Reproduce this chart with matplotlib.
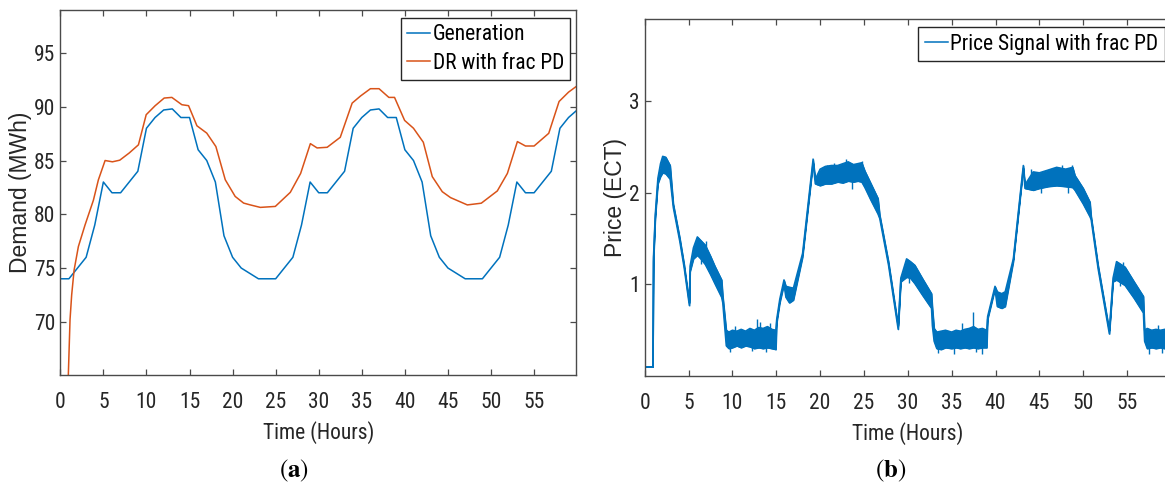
import matplotlib
matplotlib.use("Agg")
import matplotlib.pyplot as plt
from matplotlib import font_manager
from matplotlib.font_manager import FontProperties

# ---------------- data ----------------
gen_hours = list(range(0, 61))
generation = [74, 74, 75, 76, 79, 83, 82, 82, 83, 84,
              88, 89, 89.7, 89.8, 89, 89, 86, 85, 83, 78,
              76, 75, 74.5, 74, 74, 74, 75, 76, 79, 83,
              82, 82, 83, 84, 88, 89, 89.7, 89.8, 89, 89,
              86, 85, 83, 78, 76, 75, 74.5, 74, 74, 74,
              75, 76, 79, 83, 82, 82, 83, 84, 88, 89, 89.7]

dr_hours = [0, 0.93, 1.13, 1.32, 1.6, 2.1, 2.87, 3.84, 4.42, 5.2, 6.05, 6.9, 8.0,
            9.07, 9.97, 11.0, 12.06, 12.95, 14.11, 14.89, 15.86, 17.0, 18.06,
            19.15, 20.3, 21.28, 22.06, 23.22, 24.96, 26.7, 27.9, 29.03, 29.81,
            30.98, 32.5, 33.88, 34.85, 36.0, 37.0, 38.14, 38.8, 39.97, 41.0,
            42.14, 43.18, 44.34, 45.3, 47.25, 48.87, 50.73, 51.9, 53.06, 54.0,
            55.0, 56.7, 57.9, 59.0, 60.0]
dr_frac_pd = [40, 65.0, 70.2, 72.5, 74.8, 77.0, 79.0, 81.3, 83.2, 85.0, 84.88, 85.03, 85.7,
              86.46, 89.26, 90.09, 90.81, 90.87, 90.19, 90.1, 88.23, 87.55, 86.3,
              83.21, 81.66, 81.04, 80.87, 80.64, 80.73, 82.04, 83.8, 86.57, 86.17,
              86.23, 87.16, 90.34, 91.0, 91.68, 91.68, 90.87, 90.87, 88.73, 88.0,
              86.7, 83.5, 82.1, 81.55, 80.87, 81.03, 82.17, 83.8, 86.76, 86.35,
              86.35, 87.53, 90.49, 91.36, 91.95]

# price signal: lower / upper envelope of the fast oscillation
price_hours = [0, 0.92, 1.0, 1.2, 1.5, 1.8, 2.05, 2.4, 2.9, 3.26, 4.0, 4.5, 5.09,
               5.17, 5.55, 6.0, 6.4, 6.9, 7.5, 8.0, 8.77, 8.9, 9.3, 9.6, 10.0,
               10.5, 11.0, 11.5, 12.0, 12.5, 13.0, 13.5, 14.0, 14.5, 14.95,
               15.05, 15.4, 15.88, 16.1, 16.5, 16.95, 18.0, 19.2, 19.45, 20.0,
               20.6, 21.3, 22.0, 22.6, 23.2, 23.8, 24.3, 24.75, 25.1, 25.8,
               26.6, 26.8, 27.8, 28.9, 29.2, 29.86, 30.3, 30.8, 31.7, 32.7,
               32.8, 33.0, 33.3, 33.8, 34.3, 35.0, 35.5, 36.0, 36.5, 37.0,
               37.5, 38.0, 38.5, 39.0, 39.1, 39.94, 40.2, 40.7, 41.1, 42.03,
               43.17, 43.36, 44.3, 45.0, 46.0, 46.97, 48.0, 48.8, 49.06, 50.0,
               50.77, 50.9, 51.7, 52.98, 53.4, 53.8, 54.77, 55.8, 56.86, 57.0,
               57.3, 57.8, 58.3, 58.8, 59.3, 60.0]
price_low = [0.1, 0.1, 1.25, 1.72, 2.1, 2.18, 2.22, 2.21, 2.15, 1.84, 1.47, 1.18, 0.77,
             1.14, 1.28, 1.32, 1.28, 1.22, 1.11, 1.01, 0.86, 0.8, 0.33, 0.30, 0.31,
             0.33, 0.31, 0.33, 0.32, 0.30, 0.31, 0.30, 0.31, 0.30, 0.29,
             0.58, 0.80, 1.00, 0.86, 0.80, 0.83, 1.30, 2.33, 2.10, 2.08,
             2.10, 2.10, 2.12, 2.11, 2.13, 2.12, 2.13, 2.12, 2.06, 1.92,
             1.77, 1.72, 1.21, 0.51, 1.03, 1.08, 1.07, 1.01, 0.88, 0.74,
             0.55, 0.38, 0.30, 0.29, 0.31, 0.30, 0.31, 0.30, 0.31, 0.30,
             0.31, 0.30, 0.31, 0.31, 0.62, 0.95, 0.76, 0.74, 0.76, 1.25,
             2.27, 2.05, 2.03, 2.05, 2.07, 2.08, 2.07, 2.06, 2.03, 1.88,
             1.74, 1.71, 1.17, 0.46, 1.03, 1.05, 0.99, 0.85, 0.69, 0.38,
             0.30, 0.31, 0.30, 0.31, 0.30, 0.31]
price_high = [0.1, 0.1, 1.3, 1.76, 2.16, 2.32, 2.40, 2.39, 2.30, 1.88, 1.51, 1.22, 0.80,
              1.20, 1.40, 1.52, 1.48, 1.43, 1.31, 1.20, 1.05, 0.88, 0.50, 0.48, 0.50,
              0.49, 0.51, 0.49, 0.52, 0.50, 0.53, 0.52, 0.54, 0.51, 0.50,
              0.62, 0.84, 1.05, 0.98, 0.97, 0.96, 1.34, 2.37, 2.15, 2.26,
              2.29, 2.30, 2.30, 2.32, 2.34, 2.31, 2.32, 2.33, 2.24, 2.10,
              1.94, 1.76, 1.25, 0.55, 1.07, 1.28, 1.25, 1.21, 1.06, 0.90,
              0.75, 0.52, 0.48, 0.49, 0.50, 0.48, 0.50, 0.49, 0.51, 0.52,
              0.54, 0.51, 0.52, 0.50, 0.65, 0.98, 0.92, 0.90, 0.92, 1.28,
              2.30, 2.09, 2.23, 2.22, 2.25, 2.28, 2.26, 2.28, 2.19, 2.05,
              1.90, 1.75, 1.21, 0.50, 1.07, 1.25, 1.19, 1.03, 0.87, 0.50,
              0.52, 0.50, 0.51, 0.50, 0.51, 0.50]

# isolated spikes of the price signal
spike_hours = [6.4, 6.95, 9.7, 10.3, 12.2, 12.8, 13.2, 13.8, 14.3, 20.8, 21.6, 22.9,
               23.6, 24.8, 30.1, 33.5, 35.3, 36.2, 37.4, 37.8, 38.5, 44.0, 45.2,
               47.6, 48.3, 48.75, 54.2, 54.5, 57.5, 58.5, 59.0]
spike_low = [1.22, 1.30, 0.26, 0.40, 0.27, 0.45, 0.45, 0.26, 0.45, 2.20, 2.20, 2.25,
             2.04, 2.20, 1.02, 0.25, 0.24, 0.45, 0.45, 0.26, 0.24, 2.15, 2.00,
             2.20, 2.00, 2.15, 0.98, 1.10, 0.24, 0.45, 0.25]
spike_high = [1.40, 1.47, 0.40, 0.55, 0.35, 0.62, 0.59, 0.35, 0.58, 2.31, 2.33, 2.37,
              2.15, 2.35, 1.12, 0.35, 0.33, 0.58, 0.70, 0.35, 0.33, 2.26, 2.12,
              2.30, 2.10, 2.30, 1.08, 1.24, 0.33, 0.56, 0.32]

x_ticks = [0, 5, 10, 15, 20, 25, 30, 35, 40, 45, 50, 55]
left_yticks = [70, 75, 80, 85, 90, 95]
right_yticks = [1, 2, 3]

# ---------------- fonts ----------------
FS = 15.5
FS_YLAB = 16.5


def pick_narrow_font():
    prefs = ["liberation sans narrow", "arial narrow", "roboto condensed",
             "noto sans condensed", "open sans condensed", "dejavu sans condensed"]
    cands = []
    for f in font_manager.fontManager.ttflist:
        name = f.name.lower()
        stretch = str(f.stretch).lower()
        w = f.weight
        if f.style != "normal" or w not in (400, "normal", "regular", "book"):
            continue
        full = name
        if "condensed" in stretch and "condensed" not in name:
            full = name + " condensed"
        if "semi" in stretch or "semi" in name or "extra" in name or "ultra" in name:
            continue
        for rank, p in enumerate(prefs):
            if full == p:
                cands.append((rank, f.fname))
    if cands:
        cands.sort()
        return FontProperties(fname=cands[0][1], size=FS)
    return FontProperties(family=["Liberation Sans", "DejaVu Sans"], size=FS, stretch="condensed")


narrow = pick_narrow_font()
plt.rcParams["font.family"] = ["Liberation Sans", "DejaVu Sans"]
ylab_font = FontProperties(family=["Liberation Sans", "DejaVu Sans"], size=FS_YLAB)

# ---------------- style ----------------
BLUE = "#0072BD"
ORANGE = "#D95319"
AX_COL = "#262626"
SPINE_COL = "#4a4a4a"

W, H = 1165, 484
fig = plt.figure(figsize=(W / 100, H / 100), dpi=100)


def px_axes(l, t, r, b):
    return fig.add_axes([l / W, 1 - b / H, (r - l) / W, (b - t) / H])


def style(ax, right=True):
    for s in ax.spines.values():
        s.set_color(SPINE_COL)
        s.set_linewidth(1.0)
    ax.tick_params(direction="in", length=4.3, width=0.9, color=SPINE_COL,
                   labelcolor=AX_COL, top=True, right=right)
    ax.tick_params(axis="x", pad=12)
    ax.tick_params(axis="y", pad=3.5)
    for t in ax.get_xticklabels() + ax.get_yticklabels():
        t.set_fontproperties(narrow)


# ---- left panel ----
ax1 = px_axes(60.3, 10, 576.3, 375)
ax1.plot(gen_hours, generation, color=BLUE, lw=1.1, label="Generation")
ax1.plot(dr_hours, dr_frac_pd, color=ORANGE, lw=1.1, label="DR with frac PD")
ax1.set_xlim(0, 59.9)
ax1.set_ylim(65.05, 99.0)
ax1.set_xticks(x_ticks)
ax1.set_yticks(left_yticks)
style(ax1)
ax1.set_xlabel("Time (Hours)", fontproperties=narrow, color=AX_COL, labelpad=6)
ax1.set_ylabel("Demand (MWh)", fontproperties=ylab_font, color=AX_COL)
ax1.yaxis.set_label_coords(-0.055, 0.5)
leg1 = ax1.legend(loc="upper right", bbox_to_anchor=((570 - 60.3) / 516, (375 - 18.3) / 365),
                  bbox_transform=ax1.transAxes, borderaxespad=0, prop=narrow,
                  handlelength=1.1, handletextpad=0.1, borderpad=0.28, labelspacing=0.35,
                  fancybox=False, framealpha=1, edgecolor=AX_COL)
leg1.get_frame().set_linewidth(1.0)

# ---- right panel ----
ax2_w = 8.77 * 59.9
ax2 = px_axes(644.7, 19, 644.7 + ax2_w, 376)
ax2.fill_between(price_hours, price_low, price_high, color=BLUE, lw=0.8,
                 edgecolor=BLUE)
ax2.plot(price_hours, price_low, color=BLUE, lw=1.1, label="Price Signal with frac PD")
ax2.plot(price_hours, price_high, color=BLUE, lw=1.1)
ax2.vlines(spike_hours, spike_low, spike_high, color=BLUE, lw=1.0)
ax2.set_xlim(0, 59.9)
ax2.set_ylim(0.0, 3.9)
ax2.set_xticks(x_ticks)
ax2.set_yticks(right_yticks)
style(ax2, right=False)
ax2.set_xlabel("Time (Hours)", fontproperties=narrow, color=AX_COL, labelpad=6)
ax2.set_ylabel("Price (ECT)", fontproperties=ylab_font, color=AX_COL)
ax2.yaxis.set_label_coords(-0.034, 0.5)
leg2 = ax2.legend(loc="upper right", bbox_to_anchor=((1164.5 - 644.7) / ax2_w, (376 - 26.7) / 357),
                  bbox_transform=ax2.transAxes, borderaxespad=0, prop=narrow,
                  handlelength=1.1, handletextpad=0.1, borderpad=0.28,
                  fancybox=False, framealpha=1, edgecolor=AX_COL)
leg2.get_frame().set_linewidth(1.0)

# ---- captions ----
plt.rcParams["mathtext.fontset"] = "stix"
cap_font = dict(fontsize=18, color="black", ha="center", va="center")
fig.text(294 / W, 1 - 471 / H, r"$\mathrm{(}\mathbf{a}\mathrm{)}$", **cap_font)
fig.text(891 / W, 1 - 471 / H, r"$\mathrm{(}\mathbf{b}\mathrm{)}$", **cap_font)

fig.savefig("out.png", dpi=100)
